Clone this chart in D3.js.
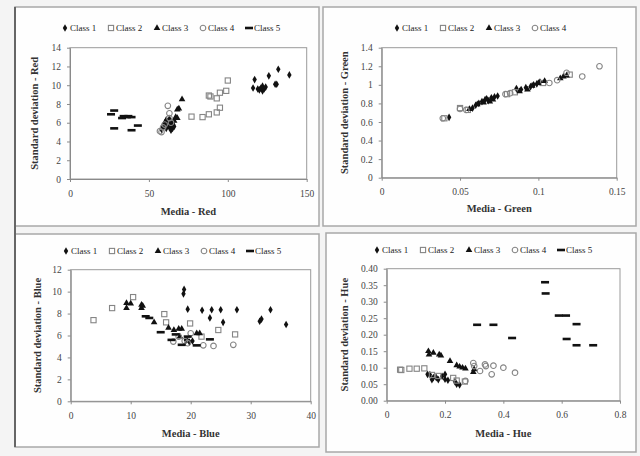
<!DOCTYPE html>
<html>
<head>
<meta charset="utf-8">
<script src="https://cdn.jsdelivr.net/npm/d3@7"></script>
<style>
  body { margin: 0; background: #f4f4f4; }
  svg { display: block; }
  text { font-family: "Liberation Serif", "Times New Roman", serif; }
</style>
</head>
<body>
<svg id="chart" width="640" height="456"></svg>
<script>
// legend / class names
const classNames = ["Class 1", "Class 2", "Class 3", "Class 4", "Class 5"];

// Red panel [media, std]
const redC1 = [[58,5.3],[59,5.6],[60,5.9],[61,5.4],[62,6.1],[62,5.7],[63,5.5],[63,6.2],[64,5.8],[65,5.4],[65,6.0],[66,5.6],[61,6.3],[64,5.2],
  [116,9.7],[117,10.6],[119,9.6],[120,9.5],[121,9.7],[122,9.4],[122,9.9],[123,9.6],[124,9.8],[126,11.0],[130,10.1],[131,10.1],[132,11.7],[139,11.1]];
const redC2 = [[77,6.65],[84,6.6],[88,6.9],[88,8.9],[89,8.8],[93,7.1],[93,8.6],[95,7.6],[95,9.2],[99,9.4],[100,10.5]];
const redC3 = [[60,6.0],[62,5.8],[63,6.4],[65,5.9],[66,6.2],[67,6.6],[68,6.5],[68,7.4],[69,7.5],[71,8.5],[64,6.1]];
const redC4 = [[57,5.1],[58,5.0],[59,5.5],[60,5.8],[62,7.8],[63,7.0],[63,6.5],[64,6.0]];
const redC5 = [[26,6.9],[28,7.3],[28,5.4],[33,6.5],[34,6.7],[36,6.6],[37,6.7],[39,6.6],[39,5.2],[43,5.7]];

// Green panel
const greenC1 = [[0.043,0.65],[0.058,0.75],[0.060,0.78],[0.062,0.80],[0.064,0.82],[0.066,0.84],[0.068,0.83],[0.070,0.86],[0.072,0.87],[0.074,0.88],
  [0.086,0.96],[0.089,0.95],[0.092,0.97],[0.095,0.98],[0.097,1.00],[0.099,1.01],[0.101,1.03]];
const greenC2 = [[0.040,0.64],[0.050,0.75],[0.055,0.73],[0.080,0.90],[0.085,0.92],[0.103,1.02],[0.120,1.11]];
const greenC3 = [[0.056,0.74],[0.061,0.79],[0.065,0.81],[0.067,0.85],[0.069,0.82],[0.071,0.84],[0.088,0.93],[0.093,0.95],[0.096,0.99],
  [0.100,1.02],[0.104,1.04],[0.114,1.07],[0.116,1.09],[0.118,1.10]];
const greenC4 = [[0.039,0.64],[0.050,0.74],[0.054,0.73],[0.079,0.90],[0.082,0.91],[0.107,1.02],[0.112,1.05],[0.118,1.13],[0.128,1.09],[0.139,1.20]];

// Blue panel
const blueC1 = [[18.9,10.2],[18.8,9.8],[19.5,8.4],[21.9,8.3],[23.5,8.35],[25,8.35],[27.7,8.35],[23.2,7.6],[25.4,7.2],[31.5,7.3],[31.8,7.5],
  [33.3,8.35],[35.9,7.0],[19.2,5.6],[19.8,5.4],[20.3,5.5]];
const blueC2 = [[3.8,7.4],[6.9,8.5],[10.4,9.5],[15.6,7.95],[15.9,7.2],[19.9,7.1],[21.8,5.9],[24.6,6.5],[27.4,6.1]];
const blueC3 = [[9.3,8.95],[10.0,8.9],[9.3,8.5],[11.8,8.8],[11.8,8.5],[12.0,8.7],[13.9,7.2],[16.3,6.7],[17.2,6.5],[18.0,6.6],[18.5,6.6],
  [21.0,6.2],[21.5,6.2],[18.2,5.9],[19.5,5.5]];
const blueC4 = [[17.1,5.45],[19.0,5.5],[19.5,5.3],[20.0,6.2],[22.1,5.1],[23.8,5.05],[27.1,5.15],[18.0,5.9]];
const blueC5 = [[12.5,7.75],[13.1,7.6],[15.0,6.3],[16.8,5.6],[18.5,5.15],[21.0,5.1],[23.2,5.65],[19.5,5.9],[17.5,6.1]];

// Hue panel
const hueC1 = [[0.14,0.08],[0.148,0.079],[0.155,0.064],[0.17,0.07],[0.177,0.064],[0.19,0.074],[0.2,0.065],[0.2,0.08],[0.234,0.058],
  [0.24,0.05],[0.25,0.048],[0.16,0.07],[0.21,0.062]];
const hueC2 = [[0.046,0.094],[0.05,0.093],[0.078,0.097],[0.103,0.097],[0.129,0.098],[0.155,0.078],[0.177,0.075],[0.228,0.069],[0.24,0.061],[0.268,0.058]];
const hueC3 = [[0.143,0.15],[0.145,0.14],[0.16,0.145],[0.18,0.14],[0.186,0.137],[0.217,0.12],[0.24,0.107],[0.25,0.103],[0.26,0.1],
  [0.27,0.097],[0.297,0.087],[0.3,0.095]];
const hueC4 = [[0.27,0.06],[0.297,0.114],[0.3,0.105],[0.32,0.09],[0.337,0.11],[0.34,0.105],[0.36,0.08],[0.366,0.106],[0.4,0.1],[0.44,0.085]];
const hueC5 = [[0.31,0.23],[0.366,0.23],[0.43,0.19],[0.543,0.359],[0.545,0.325],[0.59,0.258],[0.615,0.258],[0.651,0.232],[0.617,0.187],
  [0.651,0.168],[0.708,0.168]];

// tick values
const redXTicks = [0, 50, 100, 150], redYTicks = [0, 2, 4, 6, 8, 10, 12, 14];
const greenXTicks = [0, 0.05, 0.1, 0.15], greenYTicks = [0, 0.2, 0.4, 0.6, 0.8, 1, 1.2, 1.4];
const blueXTicks = [0, 10, 20, 30, 40], blueYTicks = [0, 2, 4, 6, 8, 10, 12];
const hueXTicks = [0, 0.2, 0.4, 0.6, 0.8], hueYTicks = [0, 0.05, 0.1, 0.15, 0.2, 0.25, 0.3, 0.35, 0.4];

const svg = d3.select("#chart");

// panel frames
const frames = [
  {x: 15, y: 7, w: 304, h: 219},
  {x: 323, y: 7, w: 313, h: 219},
  {x: 15, y: 234, w: 304, h: 213},
  {x: 326, y: 233, w: 310, h: 219}
];
svg.selectAll("rect.frame").data(frames).enter().append("rect")
  .attr("class", "frame")
  .attr("x", d => d.x).attr("y", d => d.y)
  .attr("width", d => d.w).attr("height", d => d.h)
  .attr("fill", "#fefefe").attr("stroke", "#a8a8a8").attr("stroke-width", 1.5);
// darker left edge like the scan
svg.append("line").attr("x1", 15).attr("x2", 15).attr("y1", 7).attr("y2", 447)
  .attr("stroke", "#666").attr("stroke-width", 2);

const panels = [
  {series: [redC1, redC2, redC3, redC4, redC5], xDom: [0, 150], yDom: [0, 14], xt: redXTicks, yt: redYTicks,
   xf: d3.format("d"), yf: d3.format("d"), box: [70, 306.7, 47.7, 179], legX: 61, legY: 28, xTitleY: 215, yTitleX: 38,
   xTitle: "Media - Red", yTitle: "Standard deviation - Red"},
  {series: [greenC1, greenC2, greenC3, greenC4], xDom: [0, 0.15], yDom: [0, 1.4], xt: greenXTicks, yt: greenYTicks,
   xf: d => String(d), yf: d => String(d), box: [381.7, 616.7, 47.7, 177.7], legX: 393, legY: 28, xTitleY: 212, yTitleX: 348,
   xTitle: "Media - Green", yTitle: "Standard deviation - Green"},
  {series: [blueC1, blueC2, blueC3, blueC4, blueC5], xDom: [0, 40], yDom: [0, 12], xt: blueXTicks, yt: blueYTicks,
   xf: d3.format("d"), yf: d3.format("d"), box: [70.7, 310.7, 269.7, 401.3], legX: 62, legY: 251, xTitleY: 437, yTitleX: 41,
   xTitle: "Media - Blue", yTitle: "Standard deviation - Blue"},
  {series: [hueC1, hueC2, hueC3, hueC4, hueC5], xDom: [0, 0.8], yDom: [0, 0.4], xt: hueXTicks, yt: hueYTicks,
   xf: d => String(d), yf: d3.format(".2f"), box: [386.7, 620, 268.7, 400.7], legX: 373, legY: 250, xTitleY: 437, yTitleX: 348,
   xTitle: "Media - Hue", yTitle: "Standard deviation - Hue"}
];

const gray = "#858585";

function drawMarker(sel, k) {
  if (k === 0) {
    sel.append("path").attr("d", d3.symbol(d3.symbolDiamond, 17)()).attr("fill", "#111");
  } else if (k === 1) {
    sel.append("rect").attr("x", -2.6).attr("y", -2.6).attr("width", 5.2).attr("height", 5.2)
      .attr("fill", "none").attr("stroke", gray).attr("stroke-width", 1.1);
  } else if (k === 2) {
    sel.append("path").attr("d", d3.symbol(d3.symbolTriangle, 19)()).attr("fill", "#111");
  } else if (k === 3) {
    sel.append("circle").attr("r", 2.8).attr("fill", "none").attr("stroke", gray).attr("stroke-width", 1.1);
  } else {
    sel.append("rect").attr("x", -4).attr("y", -1.3).attr("width", 8).attr("height", 2.6).attr("fill", "#111");
  }
}

panels.forEach(p => {
  const [x0, x1, yT, yB] = p.box;
  const x = d3.scaleLinear().domain(p.xDom).range([x0, x1]);
  const y = d3.scaleLinear().domain(p.yDom).range([yB, yT]);
  const g = svg.append("g");

  // plot area border
  g.append("rect").attr("x", x0).attr("y", yT).attr("width", x1 - x0).attr("height", yB - yT)
    .attr("fill", "white").attr("stroke", "#9a9a9a").attr("stroke-width", 1);

  const xAxis = g.append("g").attr("transform", `translate(0,${yB})`)
    .call(d3.axisBottom(x).tickValues(p.xt).tickFormat(p.xf).tickSize(3).tickSizeOuter(0).tickPadding(8));
  const yAxis = g.append("g").attr("transform", `translate(${x0},0)`)
    .call(d3.axisLeft(y).tickValues(p.yt).tickFormat(p.yf).tickSize(3).tickSizeOuter(0).tickPadding(6));
  [xAxis, yAxis].forEach(a => {
    a.select(".domain").attr("stroke", "#8a8a8a");
    a.selectAll(".tick line").attr("stroke", "#8a8a8a");
    a.selectAll("text").attr("font-family", "Liberation Serif, serif").attr("font-size", 9.5).attr("fill", "#444");
  });

  // points
  p.series.forEach((data, k) => {
    const pts = g.append("g").selectAll("g").data(data).enter().append("g")
      .attr("transform", d => `translate(${x(d[0])},${y(d[1])})`);
    drawMarker(pts, k);
  });

  // legend
  const leg = g.append("g").attr("transform", `translate(${p.legX},${p.legY})`);
  p.series.forEach((s, k) => {
    const item = leg.append("g").attr("transform", `translate(${k * 46},0)`);
    const m = item.append("g").attr("transform", "translate(4,0)");
    drawMarker(m, k);
    item.append("text").attr("x", 9).attr("y", 3).attr("font-size", 9).attr("fill", "#222")
      .text(classNames[k]);
  });

  // axis titles
  g.append("text").attr("x", (x0 + x1) / 2).attr("y", p.xTitleY).attr("text-anchor", "middle")
    .attr("font-size", 10.5).attr("font-weight", "bold").attr("fill", "#333").text(p.xTitle);
  g.append("text").attr("transform", `translate(${p.yTitleX},${(yT + yB) / 2}) rotate(-90)`)
    .attr("text-anchor", "middle").attr("font-size", 10.5).attr("font-weight", "bold").attr("fill", "#333")
    .text(p.yTitle);
});
</script>
</body>
</html>
